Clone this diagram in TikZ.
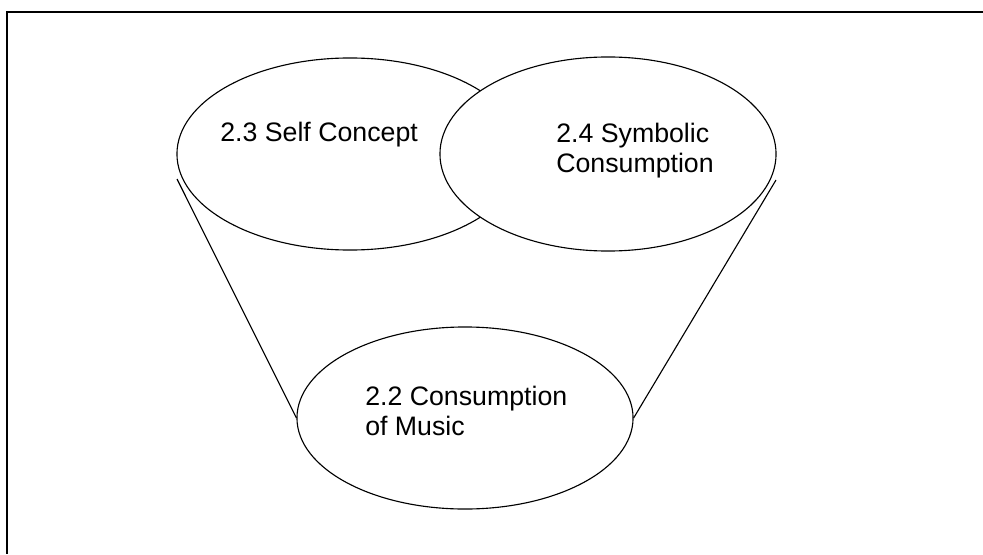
\documentclass[tikz,border=0pt]{standalone}
\usepackage{fontspec}
\setmainfont{Liberation Sans}
\usepackage{tikz}
\usetikzlibrary{shapes.geometric,calc}
\tikzstyle{venn}=[
  x=0.025cm, y=0.025cm, font=\fontsize{19}{21.3}\selectfont
]
\tikzstyle{topic}=[
  ellipse, draw, line width=0.8pt, fill=white, inner sep=0pt
]
\tikzstyle{topiclabel}=[
  anchor=base west, align=left, inner sep=0pt
]
\tikzstyle{funnel}=[
  line width=0.8pt
]
\tikzstyle{frame}=[
  line width=1.4pt
]

\begin{document}
\begin{tikzpicture}[venn]
\useasboundingbox (0,0) rectangle (983,554);
\coordinate (frame tl) at (7,542);
\coordinate (frame tr) at (983,542);
\coordinate (frame bl) at (7,0);
\draw [frame] (frame tr) -- (frame tl) -- (frame bl);

\node (self) [topic, minimum width=8.65cm, minimum height=4.8cm] at (350,400) {};
\node (symbolic) [topic, minimum width=8.4cm, minimum height=4.85cm] at (608,400) {};
\node (music) [topic, minimum width=8.4cm, minimum height=4.55cm] at (465,136) {};

\node (self text) [topiclabel] at (220,412) {2.3 Self Concept};
\node (symbolic text) [topiclabel] at (556,382) {2.4 Symbolic\\Consumption};
\node (music text) [topiclabel] at (365,119) {2.2 Consumption\\of Music};

\coordinate (left top) at (177,375);
\coordinate (right top) at (776,374);
\draw [funnel] (left top) -- (music.west);
\draw [funnel] (right top) -- (music.east);
\end{tikzpicture}
\end{document}
